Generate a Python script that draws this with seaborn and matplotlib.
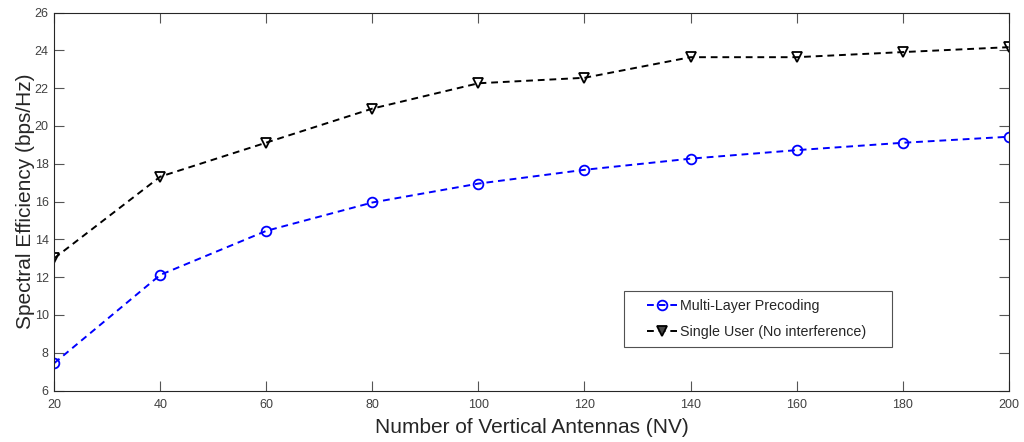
import matplotlib
matplotlib.use("Agg")
import matplotlib.pyplot as plt
import seaborn as sns
import pandas as pd
from matplotlib.lines import Line2D
from matplotlib.legend_handler import HandlerLine2D

# Number of vertical antennas
nv = [20, 40, 60, 80, 100, 120, 140, 160, 180, 200]
# Spectral efficiency (bps/Hz)
multi_layer = [7.45, 12.12, 14.45, 15.95, 16.95, 17.68, 18.27, 18.72, 19.11, 19.43]
single_user = [13.0, 17.32, 19.12, 20.92, 22.26, 22.55, 23.64, 23.64, 23.91, 24.17]

label_ml = "Multi-Layer Precoding"
label_su = "Single User (No interference)"

df = pd.DataFrame({
    "NV": nv * 2,
    "SE": multi_layer + single_user,
    "Scheme": [label_ml] * len(nv) + [label_su] * len(nv),
})

sns.set_theme(style="white")
plt.rcParams["font.family"] = ["Liberation Sans", "DejaVu Sans"]

fig = plt.figure(figsize=(10.24, 4.42), dpi=100)
ax = fig.add_axes([0.053, 0.1165, 0.932, 0.855])

dash = (3.5, 2.5)
sns.lineplot(
    data=df, x="NV", y="SE", hue="Scheme", style="Scheme",
    palette={label_ml: "#0000ff", label_su: "#000000"},
    markers={label_ml: "o", label_su: "v"},
    dashes={label_ml: dash, label_su: dash},
    linewidth=1.4, markersize=7, markeredgewidth=1.3,
    markerfacecolor="none", ax=ax, legend=False,
)
# open markers with edges in each line colour
for line in ax.get_lines():
    line.set_markeredgecolor(line.get_color())
    line.set_markerfacecolor("none")

ax.set_xlim(20, 200)
ax.set_ylim(6, 26)
ax.set_xticks(range(20, 201, 20))
ax.set_yticks(range(6, 27, 2))

axis_col = "#262626"
for s in ax.spines.values():
    s.set_color(axis_col)
    s.set_linewidth(0.8)
    s.set_visible(True)
ax.tick_params(direction="in", length=7.2, width=0.8, color="#555555",
               labelcolor="#404040", labelsize=9, top=True, right=True,
               bottom=True, left=True)
ax.tick_params(axis="x", pad=6)
ax.tick_params(axis="y", pad=4)

ax.set_xlabel("Number of Vertical Antennas (NV)", fontsize=15, color="#262626", labelpad=5)
ax.set_ylabel("Spectral Efficiency (bps/Hz)", fontsize=15, color="#262626", labelpad=0)

handles = [
    Line2D([], [], color="#0000ff", linestyle=(0, dash), linewidth=1.4,
           marker="o", markersize=7, markeredgewidth=1.3, markerfacecolor="none"),
    Line2D([], [], color="#000000", linestyle=(0, dash), linewidth=1.4,
           marker="v", markersize=7, markeredgewidth=1.3, markerfacecolor="#444444"),
]
leg = ax.legend(handles, [label_ml, label_su], loc="upper left",
                bbox_to_anchor=(0.597, 0.264, 0.281, 0.0), mode="expand",
                borderaxespad=0, fontsize=10.3, frameon=True, fancybox=False,
                handlelength=3.1, handletextpad=0.2, borderpad=0.6,
                labelspacing=0.8,
                handler_map={Line2D: HandlerLine2D(xpad=1.0)})
leg.get_frame().set_edgecolor(axis_col)
leg.get_frame().set_linewidth(0.8)

fig.savefig("out.png", dpi=100, facecolor="white")
